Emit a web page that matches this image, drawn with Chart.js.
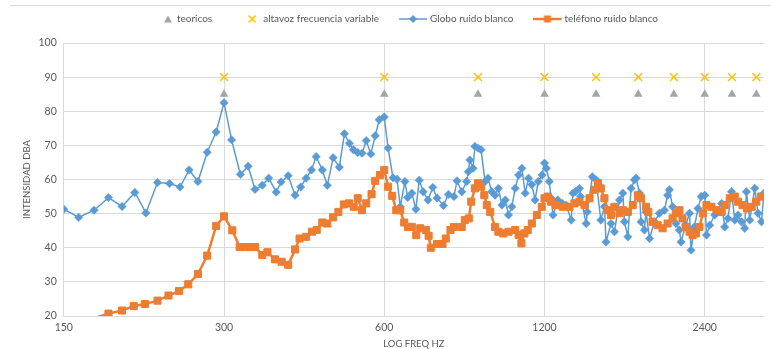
<!DOCTYPE html>
<html>
<head>
<meta charset="utf-8">
<script src="https://cdn.jsdelivr.net/npm/chart.js@4.4.1/dist/chart.umd.min.js"></script>
<style>
  html, body { margin: 0; padding: 0; background: #fff; }
  #wrap { position: relative; width: 771px; height: 349px; }
  #frame { position: absolute; left: 10px; right: 0; top: 5px; height: 1px; background: #d9d9d9; }
</style>
</head>
<body>
<div id="wrap">
  <div id="frame"></div>
  <canvas id="chart" width="771" height="349"></canvas>
</div>
<script>
// frequencies (Hz) and levels (dBA)
const teoricosFreq = [300, 600, 900, 1200, 1500, 1800, 2100, 2400, 2700, 3000];
const teoricosDb = [85, 85, 85, 85, 85, 85, 85, 85, 85, 85];

const altavozFreq = [300, 600, 900, 1200, 1500, 1800, 2100, 2400, 2700, 3000];
const altavozDb = [90, 90, 90, 90, 90, 90, 90, 90, 90, 90];

const globoFreq = [
  150, 160, 171, 182, 193, 204, 214, 225, 237, 248,
  258, 268, 279, 290, 300, 310, 322, 333, 343, 354,
  364, 376, 384, 396, 408, 418, 428, 438, 447, 459,
  469, 481, 494, 505, 516, 525, 535, 545, 555, 566,
  577, 587, 600, 610, 623, 634, 643, 656, 664, 676,
  688, 698, 710, 725, 740, 754, 775, 792, 811, 822,
  839, 857, 863, 869, 881, 888, 900, 912, 928, 940,
  955, 969, 983, 998, 1013, 1027, 1042, 1057, 1073, 1088,
  1104, 1120, 1136, 1152, 1168, 1188, 1200, 1210, 1225, 1235,
  1245, 1271, 1297, 1318, 1347, 1357, 1372, 1396, 1403, 1437,
  1444, 1476, 1500, 1531, 1555, 1566, 1600, 1624, 1660, 1684,
  1696, 1721, 1745, 1771, 1784, 1810, 1822, 1849, 1862, 1890,
  1931, 1973, 2016, 2044, 2060, 2089, 2119, 2151, 2166, 2210,
  2247, 2262, 2295, 2331, 2364, 2400, 2418, 2452, 2506, 2582,
  2617, 2654, 2695, 2733, 2772, 2813, 2853, 2874, 2916, 2980,
  3023, 3068, 3100
];
const globoDb = [
  51.3, 48.9, 51.0, 54.7, 52.1, 56.2, 50.2, 59.1, 58.8, 57.8,
  62.8, 59.4, 68.0, 73.9, 82.5, 71.6, 61.5, 63.9, 57.1, 58.3,
  60.4, 56.3, 59.3, 61.1, 55.4, 57.8, 60.4, 62.8, 66.7, 62.8,
  58.3, 66.4, 63.6, 73.4, 70.6, 68.7, 67.9, 67.7, 71.4, 67.5,
  72.8, 77.5, 78.3, 69.2, 60.5, 60.1, 52.0, 59.4, 54.7, 56.0,
  51.3, 59.8, 56.4, 54.0, 57.7, 54.6, 52.4, 55.6, 55.0, 59.6,
  56.4, 59.4, 62.3, 65.7, 63.3, 69.7, 69.2, 68.7, 59.4, 60.4,
  56.4, 55.4, 57.4, 52.5, 54.0, 49.6, 52.0, 57.4, 61.3, 63.3,
  56.0, 60.4, 58.5, 54.0, 59.4, 61.3, 64.8, 63.3, 59.4, 54.5,
  49.6, 54.0, 53.0, 52.5, 48.1, 56.0, 56.4, 57.4, 55.0, 47.1,
  50.5, 60.8, 59.9, 48.1, 52.0, 41.7, 47.1, 44.7, 54.0, 56.0,
  47.6, 43.2, 57.4, 59.9, 60.4, 56.0, 47.6, 45.2, 50.5, 42.7,
  47.6, 50.1, 51.0, 55.4, 57.0, 52.0, 47.1, 45.2, 41.7, 46.6,
  50.1, 39.3, 46.1, 51.5, 55.0, 55.4, 43.7, 46.6, 49.6, 53.0,
  46.1, 48.6, 56.4, 48.1, 49.6, 47.6, 45.7, 56.4, 48.1, 57.4,
  50.1, 47.6, 56.0
];

const telefonoFreq = [
  160, 182, 193, 203, 213, 225, 236, 247, 257, 268,
  279, 290, 300, 311, 321, 329, 336, 343, 354, 362,
  374, 385, 396, 408, 416, 428, 439, 448, 459, 469,
  481, 492, 504, 515, 526, 535, 545, 555, 568, 577,
  589, 600, 610, 621, 632, 643, 654, 665, 676, 689,
  701, 719, 727, 734, 754, 772, 783, 799, 811, 839,
  850, 865, 874, 888, 900, 912, 925, 935, 949, 969,
  983, 1004, 1027, 1057, 1073, 1086, 1100, 1116, 1136, 1161,
  1186, 1200, 1217, 1235, 1262, 1299, 1337, 1366, 1396, 1427,
  1458, 1490, 1513, 1531, 1555, 1579, 1600, 1624, 1660, 1684,
  1721, 1758, 1797, 1822, 1862, 1880, 1915, 1958, 2000, 2044,
  2089, 2119, 2151, 2180, 2210, 2247, 2277, 2310, 2346, 2381,
  2418, 2470, 2525, 2582, 2617, 2674, 2733, 2772, 2826, 2880,
  2940, 3000, 3063
];
const telefonoDb = [
  18.0, 20.7, 21.6, 22.9, 23.5, 24.5, 26.0, 27.3, 29.3, 32.3,
  37.7, 46.4, 49.2, 45.1, 40.2, 40.2, 40.2, 40.2, 37.9, 38.7,
  36.6, 35.9, 35.0, 39.5, 42.7, 43.2, 44.7, 45.2, 47.4, 47.1,
  48.9, 50.5, 52.7, 53.0, 52.0, 54.5, 51.0, 53.0, 55.7, 59.6,
  61.3, 62.8, 57.9, 55.2, 51.0, 51.0, 47.4, 46.1, 46.1, 43.7,
  45.7, 45.2, 43.5, 40.0, 41.1, 41.1, 42.7, 45.2, 46.1, 46.1,
  48.1, 48.6, 53.5, 57.4, 58.9, 57.9, 55.4, 52.5, 50.5, 46.1,
  44.7, 44.2, 44.7, 45.2, 43.7, 41.3, 44.2, 45.2, 47.1, 49.6,
  52.0, 54.5, 55.0, 53.5, 52.5, 52.0, 52.0, 53.0, 53.5, 52.5,
  54.5, 57.0, 58.9, 57.4, 54.5, 51.0, 49.6, 52.0, 50.1, 51.0,
  50.5, 52.5, 55.4, 54.5, 52.0, 50.5, 47.6, 46.6, 45.7, 47.1,
  48.6, 50.1, 51.0, 48.6, 46.1, 44.7, 43.7, 44.2, 46.1, 50.1,
  52.5, 52.0, 51.0, 50.5, 52.5, 54.5, 55.0, 53.5, 52.5, 51.5,
  52.0, 53.5, 55.0
];

const xTicks = [150, 300, 600, 1200, 2400];

const GRAY = '#A5A5A5', YELLOW = '#FFC000', BLUE = '#5B9BD5', ORANGE = '#ED7D31';
const TEXT = '#595959', GRID = '#D9D9D9';

function pts(xs, ys) {
  return xs.map((x, i) => ({ x: x, y: ys[i] }));
}

// legend icons in the Excel style; line icons are wider than the box on purpose
function icon(w, draw) {
  const c = document.createElement('canvas');
  c.width = w; c.height = 12;
  draw(c.getContext('2d'));
  return c;
}
const legendIcons = [
  icon(22, ctx => {
    ctx.fillStyle = GRAY;
    ctx.beginPath(); ctx.moveTo(18, 2.5); ctx.lineTo(22, 9.5); ctx.lineTo(14, 9.5); ctx.closePath(); ctx.fill();
  }),
  icon(22, ctx => {
    ctx.strokeStyle = YELLOW; ctx.lineWidth = 1.6;
    ctx.beginPath(); ctx.moveTo(12.5, 2.5); ctx.lineTo(19.5, 9.5); ctx.moveTo(19.5, 2.5); ctx.lineTo(12.5, 9.5); ctx.stroke();
  }),
  icon(30, ctx => {
    ctx.strokeStyle = BLUE; ctx.lineWidth = 1.5;
    ctx.beginPath(); ctx.moveTo(0, 6); ctx.lineTo(28, 6); ctx.stroke();
    ctx.fillStyle = BLUE;
    ctx.beginPath(); ctx.moveTo(14, 2); ctx.lineTo(18, 6); ctx.lineTo(14, 10); ctx.lineTo(10, 6); ctx.closePath(); ctx.fill();
  }),
  icon(30, ctx => {
    ctx.strokeStyle = ORANGE; ctx.lineWidth = 2.5;
    ctx.beginPath(); ctx.moveTo(0, 6); ctx.lineTo(28, 6); ctx.stroke();
    ctx.fillStyle = ORANGE;
    ctx.fillRect(10.5, 2.5, 7, 7);
  })
];

// nudge the legend to where Excel put it (its box is also its clip area)
const legendNudge = {
  id: 'legendNudge',
  afterLayout(chart) {
    const l = chart.legend;
    l.left += 13; l.right += 13;
    l.top -= 23;
  }
};

new Chart(document.getElementById('chart'), {
  type: 'scatter',
  data: {
    datasets: [
      {
        label: 'teoricos',
        data: pts(teoricosFreq, teoricosDb),
        pointStyle: 'triangle',
        pointRadius: 5,
        backgroundColor: GRAY,
        borderColor: GRAY,
        borderWidth: 0,
        order: 4
      },
      {
        label: 'altavoz frecuencia variable',
        data: pts(altavozFreq, altavozDb),
        pointStyle: 'crossRot',
        pointRadius: 5.5,
        backgroundColor: YELLOW,
        borderColor: YELLOW,
        pointBorderWidth: 1.6,
        order: 3
      },
      {
        label: 'Globo ruido blanco',
        data: pts(globoFreq, globoDb),
        showLine: true,
        borderColor: BLUE,
        backgroundColor: BLUE,
        borderWidth: 1.5,
        pointStyle: 'rectRot',
        pointRadius: 4.2,
        pointBorderWidth: 0.5,
        order: 2
      },
      {
        label: 'teléfono ruido blanco',
        data: pts(telefonoFreq, telefonoDb),
        showLine: true,
        borderColor: ORANGE,
        backgroundColor: ORANGE,
        borderWidth: 2.5,
        pointStyle: 'rect',
        pointRadius: 5,
        pointBorderWidth: 1,
        order: 1
      }
    ]
  },
  options: {
    responsive: false,
    animation: false,
    devicePixelRatio: 1,
    layout: { padding: { left: 18, right: 7, top: 13, bottom: 0 } },
    elements: { line: { tension: 0 } },
    plugins: {
      tooltip: { enabled: false },
      legend: {
        position: 'top',
        maxHeight: 30,
        labels: {
          usePointStyle: true,
          pointStyleWidth: 22,
          padding: 24,
          color: TEXT,
          font: { family: 'Lato', size: 10 },
          generateLabels: chart => chart.data.datasets.map((ds, i) => ({
            text: ds.label,
            fillStyle: ds.backgroundColor,
            strokeStyle: ds.borderColor,
            lineWidth: 0,
            fontColor: TEXT,
            pointStyle: legendIcons[i],
            hidden: !chart.isDatasetVisible(i),
            datasetIndex: i
          }))
        }
      }
    },
    scales: {
      x: {
        type: 'logarithmic',
        min: 150,
        max: 3100,
        afterBuildTicks: scale => {
          scale.ticks = xTicks.map(v => ({ value: v }));
        },
        ticks: {
          callback: v => String(v),
          autoSkip: false,
          maxRotation: 0,
          padding: 6.5,
          color: TEXT,
          font: { family: 'Lato', size: 10.5, lineHeight: 1 }
        },
        grid: { color: GRID, drawTicks: false },
        border: { display: true, color: GRID },
        title: {
          display: true,
          text: 'LOG FREQ HZ',
          color: TEXT,
          padding: 0,
          font: { family: 'Lato', size: 9.5, lineHeight: 1 }
        }
      },
      y: {
        min: 20,
        max: 100,
        ticks: {
          stepSize: 10,
          padding: 7,
          color: TEXT,
          font: { family: 'Lato', size: 10.5, lineHeight: 1 }
        },
        grid: { color: GRID, drawTicks: false },
        border: { display: false },
        title: {
          display: true,
          text: 'INTENSIDAD DBA',
          color: TEXT,
          padding: { top: 4, bottom: 0 },
          font: { family: 'Lato', size: 9.5, lineHeight: 1 }
        }
      }
    }
  },
  plugins: [legendNudge]
});
</script>
</body>
</html>
